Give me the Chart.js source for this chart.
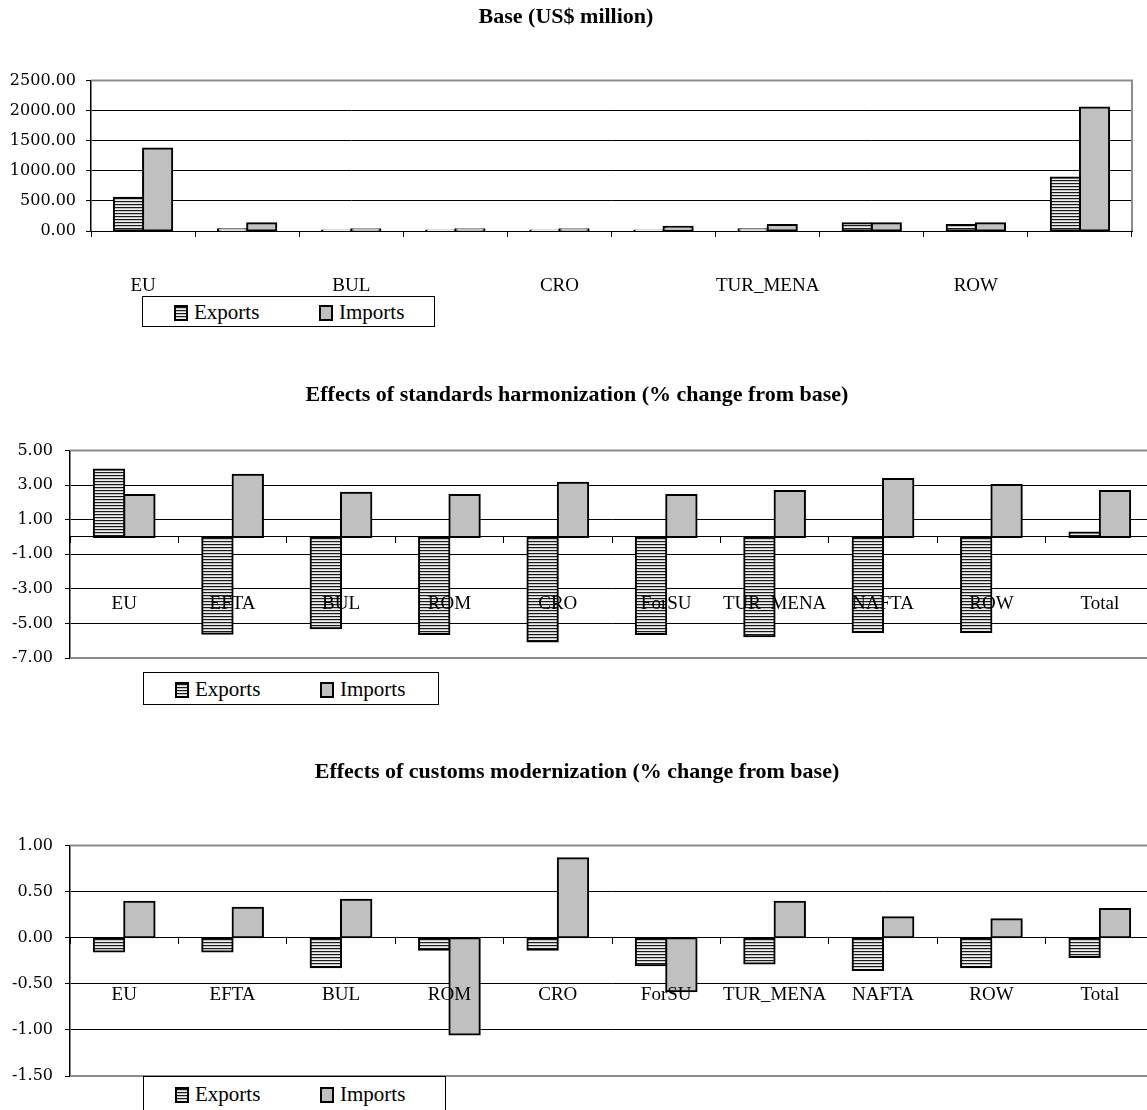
<!DOCTYPE html>
<html>
<head>
<meta charset="utf-8">
<script src="https://cdn.jsdelivr.net/npm/chart.js@4.4.1/dist/chart.umd.min.js"></script>
<style>
  html, body { margin: 0; padding: 0; background: #fff; overflow: hidden; }
  body { width: 1147px; height: 1110px; position: relative; }
  canvas { position: absolute; left: 0; }
  .legend { position: absolute; border: 1px solid #000; background: #fff; box-sizing: border-box;
            font-family: "Liberation Serif", serif; font-size: 21px; color: #000; }
  .legend .sw { position: absolute; width: 10px; height: 12px; border: 2px solid #000; }
  .legend .tx { position: absolute; line-height: 1; }
  .sw.ex { background: repeating-linear-gradient(to bottom, #1a1a1a 0 1px, #c4c4c4 1px 2px, #efefef 2px 3px); }
  .sw.im { background: #c0c0c0; }
</style>
</head>
<body>
<canvas id="base" width="1147" height="340" style="top:0px"></canvas>
<canvas id="std" width="1160" height="340" style="top:370px"></canvas>
<canvas id="cus" width="1160" height="360" style="top:750px"></canvas>

<script>
// regions (same for all three panels)
const regions = ["EU", "EFTA", "BUL", "ROM", "CRO", "ForSU", "TUR_MENA", "NAFTA", "ROW", "Total"];
const seriesNames = ["Exports", "Imports"];

// Base (US$ million)
const baseExports = [550, 30, 3, 3, 3, 3, 30, 130, 100, 890];
const baseImports = [1370, 130, 30, 30, 30, 70, 100, 130, 130, 2050];

// Effects of standards harmonization (% change from base)
const stdExports = [3.90, -5.60, -5.28, -5.61, -6.05, -5.61, -5.74, -5.50, -5.50, 0.25];
const stdImports = [2.42, 3.59, 2.55, 2.42, 3.13, 2.42, 2.65, 3.34, 3.00, 2.65];

// Effects of customs modernization (% change from base)
const cusExports = [-0.15, -0.15, -0.32, -0.13, -0.13, -0.30, -0.28, -0.35, -0.32, -0.21];
const cusImports = [0.39, 0.325, 0.41, -1.05, 0.86, -0.58, 0.39, 0.22, 0.20, 0.31];

Chart.defaults.font.family = "'Liberation Serif', serif";
Chart.defaults.color = "#000";
Chart.defaults.animation = false;

// horizontal stripes like the Excel fill
function stripes(ctx) {
    const tile = document.createElement("canvas");
    tile.width = 4; tile.height = 3;
    const g = tile.getContext("2d");
    g.fillStyle = "#1a1a1a"; g.fillRect(0, 0, 4, 1);
    g.fillStyle = "#c4c4c4"; g.fillRect(0, 1, 4, 1);
    g.fillStyle = "#efefef"; g.fillRect(0, 2, 4, 1);
    return ctx.createPattern(tile, "repeat");
}

// grey frame of the plot area (top, right and optionally bottom)
const plotFrame = {
    id: "plotFrame",
    beforeDatasetsDraw(chart, args, opts) {
        const a = chart.chartArea, c = chart.ctx;
        c.save();
        c.strokeStyle = "#8c8c8c";
        c.lineWidth = 2;
        c.beginPath();
        c.moveTo(a.left, a.top); c.lineTo(a.right, a.top); c.lineTo(a.right, a.bottom);
        if (opts.bottom) c.lineTo(a.left, a.bottom);
        c.stroke();
        c.restore();
    }
};

function makeChart(id, cfg) {
    const ctx = document.getElementById(id).getContext("2d");
    const xScale = {
        position: cfg.xPosition,
        offset: true,
        grid: { offset: true, drawOnChartArea: false, tickLength: 6, color: "#000", lineWidth: 1, z: 1 },
        border: { color: "#000", width: 1, z: 1 },
        ticks: {
            autoSkip: false, maxRotation: 0, padding: cfg.labelPad, z: 1,
            font: { size: 19 },
            callback: function (v, i) {
                return cfg.everyOther && i % 2 ? "" : this.getLabelForValue(v);
            }
        },
        afterFit: s => {
            s.paddingLeft = 0; s.paddingRight = 0;
            if (cfg.xHeight) s.height = cfg.xHeight;
        }
    };
    return new Chart(ctx, {
        type: "bar",
        data: {
            labels: regions,
            datasets: [
                { label: seriesNames[0], data: cfg.exports, backgroundColor: stripes(ctx),
                  borderColor: "#000", borderWidth: 2, borderSkipped: false, inflateAmount: 1 },
                { label: seriesNames[1], data: cfg.imports, backgroundColor: "#c0c0c0",
                  borderColor: "#000", borderWidth: 2, borderSkipped: false, inflateAmount: 1 }
            ]
        },
        options: {
            responsive: false,
            categoryPercentage: 0.56,
            barPercentage: 1,
            layout: { padding: { left: 0, right: cfg.rightPad, top: 0, bottom: cfg.bottomPad } },
            plugins: {
                legend: { display: false },
                tooltip: { enabled: false },
                title: {
                    display: true, text: cfg.title,
                    font: { size: 22, weight: "bold" },
                    padding: { top: cfg.titleTop, bottom: cfg.titleBottom }
                },
                plotFrame: { bottom: cfg.frameBottom }
            },
            scales: {
                x: xScale,
                y: {
                    min: cfg.min, max: cfg.max,
                    afterFit: s => { s.width = cfg.yWidth; },
                    grid: {
                        color: c => (c.tick.value === cfg.max || (cfg.frameBottom && c.tick.value === cfg.min)) ? "rgba(0,0,0,0)" : "#000",
                        tickColor: "#000", tickLength: 5, lineWidth: 1
                    },
                    border: { color: "#000", width: 1.5 },
                    ticks: {
                        stepSize: cfg.step, padding: cfg.yPad,
                        font: { family: "'DejaVu Serif', serif", size: 16 },
                        callback: v => Number(v).toFixed(2)
                    }
                }
            }
        },
        plugins: [plotFrame]
    });
}

makeChart("base", {
    title: "Base (US$ million)", exports: baseExports, imports: baseImports,
    min: 0, max: 2500, step: 500, xPosition: "bottom", labelPad: 38, xHeight: 70,
    everyOther: true, yWidth: 91, yPad: 10, rightPad: 15, bottomPad: 39,
    titleTop: 4, titleBottom: 50, frameBottom: false
});
makeChart("std", {
    title: "Effects of standards harmonization (% change from base)", exports: stdExports, imports: stdImports,
    min: -7, max: 5, step: 2, xPosition: { y: 0 }, labelPad: 50,
    everyOther: false, yWidth: 70, yPad: 12, rightPad: 6, bottomPad: 52,
    titleTop: 12, titleBottom: 42, frameBottom: true
});
makeChart("cus", {
    title: "Effects of customs modernization (% change from base)", exports: cusExports, imports: cusImports,
    min: -1.5, max: 1, step: 0.5, xPosition: { y: 0 }, labelPad: 40,
    everyOther: false, yWidth: 70, yPad: 12, rightPad: 6, bottomPad: 34,
    titleTop: 9, titleBottom: 60, frameBottom: true
});

// Excel-style boxed legends
function legend(left, top, width, height) {
    const box = document.createElement("div");
    box.className = "legend";
    Object.assign(box.style, { left: left + "px", top: top + "px", width: width + "px", height: height + "px" });
    const swX = [31, 176], txX = [51, 196];
    seriesNames.forEach((name, i) => {
        const sw = document.createElement("span");
        sw.className = "sw " + (i === 0 ? "ex" : "im");
        Object.assign(sw.style, { left: swX[i] + "px", top: (height / 2 - 8) + "px" });
        const tx = document.createElement("span");
        tx.className = "tx";
        tx.textContent = name;
        Object.assign(tx.style, { left: txX[i] + "px", top: (height / 2 - 11) + "px" });
        box.appendChild(sw); box.appendChild(tx);
    });
    document.body.appendChild(box);
}
legend(142, 296, 293, 31);
legend(143, 672, 296, 33);
legend(143, 1076, 303, 36);
</script>
</body>
</html>
